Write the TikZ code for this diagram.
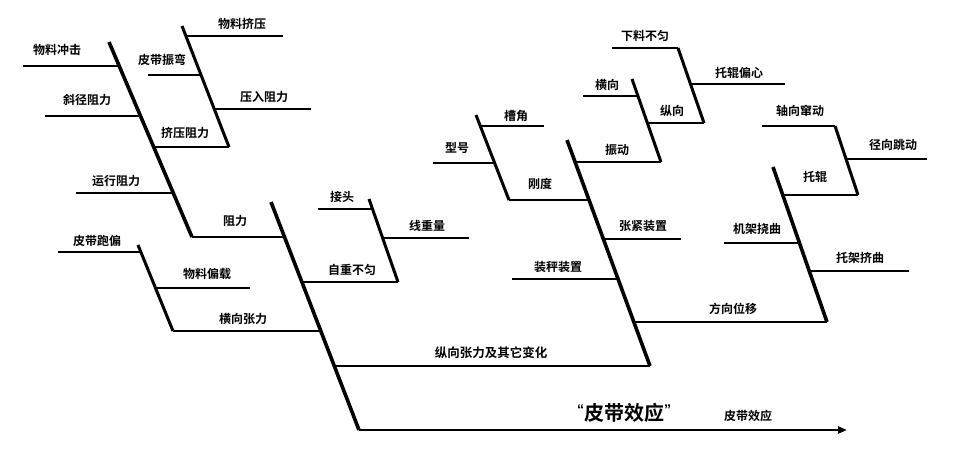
\documentclass[tikz,border=0pt]{standalone}
\usepackage{fontspec}
\newfontfamily\cjk{Noto Sans CJK SC}[BoldFont={Noto Sans CJK SC Bold}]
\newfontfamily\latinq{Liberation Sans}
\usetikzlibrary{arrows.meta}
\begin{document}
\begin{tikzpicture}[x=1pt,y=-1pt,
  spine/.style={line width=3.6pt,line cap=butt,line join=miter},
  subdiag/.style={line width=3pt,line join=miter},
  hline/.style={line width=2.5pt,line join=miter},
  lbl/.style={font=\cjk\bfseries\fontsize{12}{12}\selectfont,inner sep=0pt},
  biglbl/.style={font=\cjk\bfseries\fontsize{20}{20}\selectfont,inner sep=0pt}]
\useasboundingbox (0,0) rectangle (972,466);
% ---------- coordinates ----------
% main spine
\coordinate (S0) at (271,202);
\coordinate (S1) at (284.5,237);
\coordinate (S2) at (302,282);
\coordinate (S3) at (320.8,331);
\coordinate (S4) at (336,366);
\coordinate (S5) at (359,430);
\coordinate (Tip) at (847,430);
% left big diagonal A
\coordinate (A0) at (109,42);
\coordinate (A1) at (119,66);
\coordinate (A2) at (140.5,116);
\coordinate (A3) at (153.7,147);
\coordinate (A4) at (173,193);
\coordinate (A5) at (192,237);
\coordinate (a1) at (23,66);
\coordinate (a2) at (45,116);
\coordinate (a4) at (76,193);
% sub diag B
\coordinate (B0) at (182,26);
\coordinate (B1) at (186,36);
\coordinate (B2) at (200,75);
\coordinate (B3) at (214,109);
\coordinate (B4) at (229,147);
\coordinate (b1) at (283,36);
\coordinate (b2) at (148,75);
\coordinate (b3) at (311,109);
% sub diag C
\coordinate (C0) at (138,245);
\coordinate (C1) at (141,252);
\coordinate (C2) at (155.5,288);
\coordinate (C3) at (173,331);
\coordinate (c1) at (58,252);
\coordinate (c2) at (250,288);
% sub diag D
\coordinate (D0) at (369,199);
\coordinate (D1) at (372.5,209);
\coordinate (D2) at (383,238);
\coordinate (D3) at (398,282);
\coordinate (d1) at (318,209);
\coordinate (d2) at (469,238);
% big middle diagonal E
\coordinate (E0) at (567,140);
\coordinate (E1) at (575,162);
\coordinate (E2) at (589,200);
\coordinate (E3) at (603.3,239);
\coordinate (E4) at (618,279);
\coordinate (E5) at (633.8,322);
\coordinate (E6) at (650,366);
\coordinate (e3) at (681,239);
\coordinate (e4) at (512,279);
% sub diag F
\coordinate (F0) at (476,115);
\coordinate (F1) at (480,126);
\coordinate (F2) at (494.6,163);
\coordinate (F3) at (509,200);
\coordinate (f1) at (544,126);
\coordinate (f2) at (433,163);
% sub diag G
\coordinate (G0) at (632,79);
\coordinate (G1) at (638,96);
\coordinate (G2) at (647.4,123);
\coordinate (G3) at (661,162);
\coordinate (g1) at (583,96);
% sub diag H
\coordinate (H0) at (678,48);
\coordinate (H1) at (690.5,84);
\coordinate (H2) at (704,123);
\coordinate (h0) at (612,48);
\coordinate (h1) at (785,84);
% right big diagonal I
\coordinate (I0) at (773,167);
\coordinate (I1) at (783,195);
\coordinate (I2) at (799.5,243);
\coordinate (I3) at (809,271);
\coordinate (I4) at (827,322);
\coordinate (i2) at (724,243);
\coordinate (i3) at (909,271);
% sub diag J
\coordinate (J0) at (835,126);
\coordinate (J1) at (846,159);
\coordinate (J2) at (858,195);
\coordinate (j0) at (762,126);
\coordinate (j1) at (927,159);
% ---------- horizontal lines ----------
\draw[line width=2.6pt,-{Triangle[length=9pt,width=7pt]}] (S5) -- (Tip);
\draw[hline] (S4) -- (E6);
\draw[hline] (A5) -- (S1);
\draw[hline] (a1) -- (A1);
\draw[hline] (a2) -- (A2);
\draw[hline] (a4) -- (A4);
\draw[hline] (B4) -- (A3);
\draw[hline] (B1) -- (b1);
\draw[hline] (b2) -- (B2);
\draw[hline] (B3) -- (b3);
\draw[hline] (c1) -- (C1);
\draw[hline] (C3) -- (S3);
\draw[hline] (C2) -- (c2);
\draw[hline] (D3) -- (S2);
\draw[hline] (d1) -- (D1);
\draw[hline] (D2) -- (d2);
\draw[hline] (E1) -- (G3);
\draw[hline] (E3) -- (e3);
\draw[hline] (e4) -- (E4);
\draw[hline] (E5) -- (I4);
\draw[hline] (F3) -- (E2);
\draw[hline] (F1) -- (f1);
\draw[hline] (f2) -- (F2);
\draw[hline] (g1) -- (G1);
\draw[hline] (G2) -- (H2);
\draw[hline] (h0) -- (H0);
\draw[hline] (H1) -- (h1);
\draw[hline] (I1) -- (J2);
\draw[hline] (i2) -- (I2);
\draw[hline] (I3) -- (i3);
\draw[hline] (j0) -- (J0);
\draw[hline] (J1) -- (j1);
% ---------- diagonals ----------
\draw[spine] (S0) -- (S5);
\draw[spine] (A0) -- (A5);
\draw[subdiag] (B0) -- (B4);
\draw[subdiag] (C0) -- (C3);
\draw[subdiag] (D0) -- (D3);
\draw[spine] (E0) -- (E6);
\draw[subdiag] (F0) -- (F3);
\draw[subdiag] (G0) -- (G3);
\draw[subdiag] (H0) -- (H2);
\draw[spine] (I0) -- (I4);
\draw[subdiag] (J0) -- (J2);
% ---------- labels ----------
\node[lbl] (l1) at (57,50) {物料冲击};
\node[lbl] (l2) at (87,100) {斜径阻力};
\node[lbl] (l3) at (116,181) {运行阻力};
\node[lbl] (l4) at (235,221) {阻力};
\node[lbl] (l5) at (242,24) {物料挤压};
\node[lbl] (l6) at (162,60) {皮带振弯};
\node[lbl] (l7) at (264,97) {压入阻力};
\node[lbl] (l8) at (185,133) {挤压阻力};
\node[lbl] (l9) at (97,241) {皮带跑偏};
\node[lbl] (l10) at (243,319) {横向张力};
\node[lbl] (l11) at (207,274) {物料偏载};
\node[lbl] (l12) at (342,197) {接头};
\node[lbl] (l13) at (427,226) {线重量};
\node[lbl] (l14) at (352,270) {自重不匀};
\node[lbl] (l15) at (540,184) {刚度};
\node[lbl] (l16) at (516,116) {槽角};
\node[lbl] (l17) at (457,148) {型号};
\node[lbl] (l18) at (617,150) {振动};
\node[lbl] (l19) at (607,85) {横向};
\node[lbl] (l20) at (645,36) {下料不匀};
\node[lbl] (l21) at (672,111) {纵向};
\node[lbl] (l22) at (739,73) {托辊偏心};
\node[lbl] (l23) at (643,226) {张紧装置};
\node[lbl] (l24) at (558,267) {装秤装置};
\node[lbl] (l25) at (733,309) {方向位移};
\node[lbl] (l26) at (815,177) {托辊};
\node[lbl] (l27) at (800,111) {轴向窜动};
\node[lbl] (l28) at (893,145) {径向跳动};
\node[lbl] (l29) at (757,229) {机架挠曲};
\node[lbl] (l30) at (860,258) {托架挤曲};
\node[lbl,font=\cjk\bfseries\fontsize{12.5}{12.5}\selectfont] (l31) at (491,353) {纵向张力及其它变化};
\node[biglbl] (l32) at (624,413) {{\latinq\fontsize{14}{14}\selectfont\raisebox{6pt}{“}}皮带效应{\latinq\fontsize{14}{14}\selectfont\raisebox{6pt}{”}}};
\node[lbl] (l33) at (748,416) {皮带效应};
\end{tikzpicture}
\end{document}
